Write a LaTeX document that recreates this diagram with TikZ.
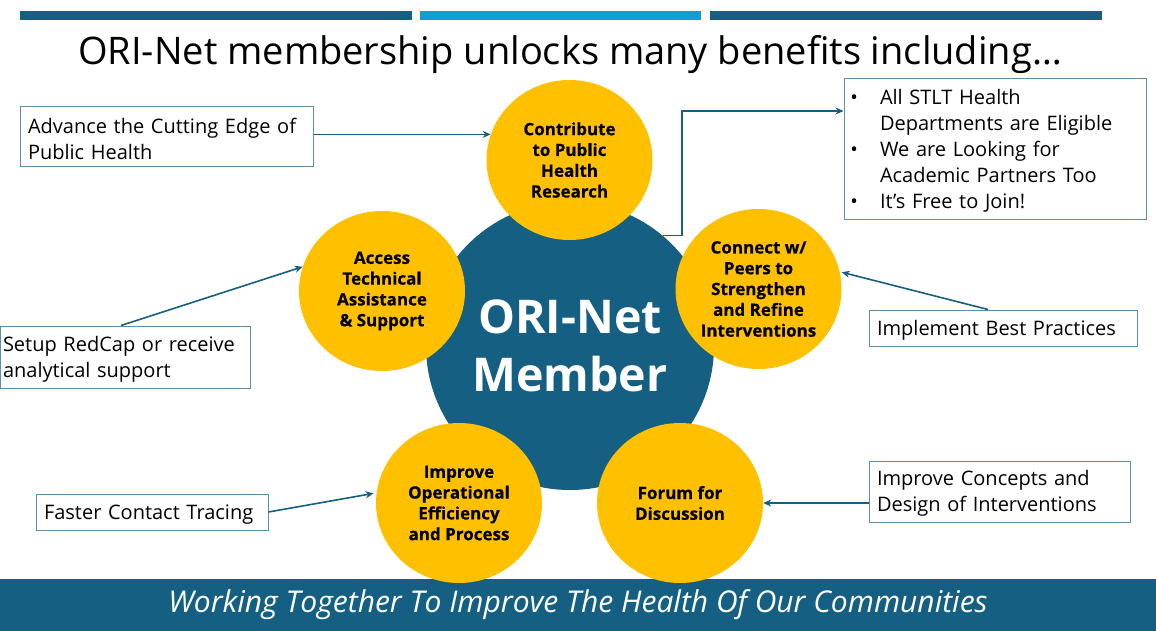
\documentclass[tikz,border=0pt]{standalone}
\usepackage{fontspec}
\setmainfont{Open Sans}
\newfontfamily\heavyfont[BoldFeatures={FakeBold=0.4}]{Open Sans}
\usetikzlibrary{arrows.meta,shapes.geometric}
\definecolor{oriblue}{HTML}{156082}
\definecolor{orisky}{HTML}{0F9ED5}
\definecolor{origold}{HTML}{FFC000}
\definecolor{oriedge}{HTML}{5F8CA6}
\newcommand{\bulletline}[1]{\hspace*{28pt}\llap{\textbullet\hspace{22pt}}#1}
\begin{document}
\begin{tikzpicture}[
	x=1pt,y=-1pt,
	benefit/.style={ellipse,fill=origold,minimum width=166pt,minimum height=160pt,inner sep=0pt,align=center,
		font=\fontsize{17}{20.8}\heavyfont\bfseries},
	calloutbox/.style={draw=oriedge,line width=1pt,fill=white,inner xsep=8pt,inner ysep=0pt,
		align=left,font=\fontsize{20}{26}\selectfont,execute at begin node={\rule{0pt}{19pt}}},
	link/.style={draw=oriblue,line width=1.6pt,-{Stealth[length=8pt,width=7pt]}}]
\useasboundingbox (0,0) rectangle (1156,631);
% top bars
\fill[oriblue] (20,11) rectangle (412,20);
\fill[orisky] (420,11) rectangle (701,20);
\fill[oriblue] (710,11) rectangle (1102,20);
\node (title) at (570,55) {\fontsize{38}{46}\selectfont ORI-Net membership unlocks many benefits including\dots};
% bottom banner
\node[fill=oriblue,text=white,minimum width=1156pt,minimum height=52pt,inner sep=0pt,
	font=\fontsize{30}{36}\selectfont\itshape] (banner) at (578,605)
	{\raisebox{-5pt}{Working Together To Improve The Health Of Our Communities}};
% centre
\node[circle,fill=oriblue,minimum size=288pt,inner sep=0pt,align=center,text=white,
	font=\fontsize{46.5}{58}\selectfont\bfseries] (member) at (570,346) {ORI-Net\\Member};
% link under the circles
\coordinate (elbow) at (682,111);
\node[calloutbox,text width=286pt,inner xsep=8pt,minimum height=140pt] (info) at (995,149)
	{\bulletline{All STLT Health}\\\hspace*{28pt}Departments are Eligible\\
	\bulletline{We are Looking for}\\\hspace*{28pt}Academic Partners Too\\
	\bulletline{It’s Free to Join!}};
\draw[link] (member.50) -| (elbow) -- (elbow -| info.west);
% benefits
\node[benefit] (contribute) at (569.5,160) {Contribute\\to Public\\Health\\Research};
\node[benefit] (access) at (382,291) {Access\\Technical\\Assistance\\\& Support};
\node[benefit] (connect) at (758.5,289) {Connect w/\\Peers to\\Strengthen\\and Refine\\Interventions};
\node[benefit] (improve) at (459,503) {Improve\\Operational\\Efficiency\\and Process};
\node[benefit] (forum) at (680,503) {Forum for\\Discussion};
% callouts
\node[calloutbox,text width=277pt,minimum height=60pt] (edge) at (166.5,137)
	{Advance the Cutting Edge of\\Public Health};
\node[calloutbox,text width=244pt,inner xsep=3pt,minimum height=62pt] (redcap) at (125,357)
	{Setup RedCap or receive\\analytical support};
\node[calloutbox,text width=216pt,minimum height=36pt] (tracing) at (152,512)
	{Faster Contact Tracing};
\node[calloutbox,text width=252pt,minimum height=36pt] (practices) at (1003,328)
	{Implement Best Practices};
\node[calloutbox,text width=245pt,minimum height=61pt] (concepts) at (999.5,491.5)
	{Improve Concepts and\\Design of Interventions};
% arrows
\draw[link] (edge.east |- contribute.162.5) -- (contribute.162.5);
\draw[link] ([xshift=-4pt]redcap.north) -- (access.163);
\draw[link,shorten >=3pt] (tracing.east) -- (improve.173);
\draw[link,shorten >=2pt] ([xshift=-15pt]practices.north) -- (connect.12);
\draw[link] (concepts.west |- forum.east) -- (forum.east);
\end{tikzpicture}
\end{document}
